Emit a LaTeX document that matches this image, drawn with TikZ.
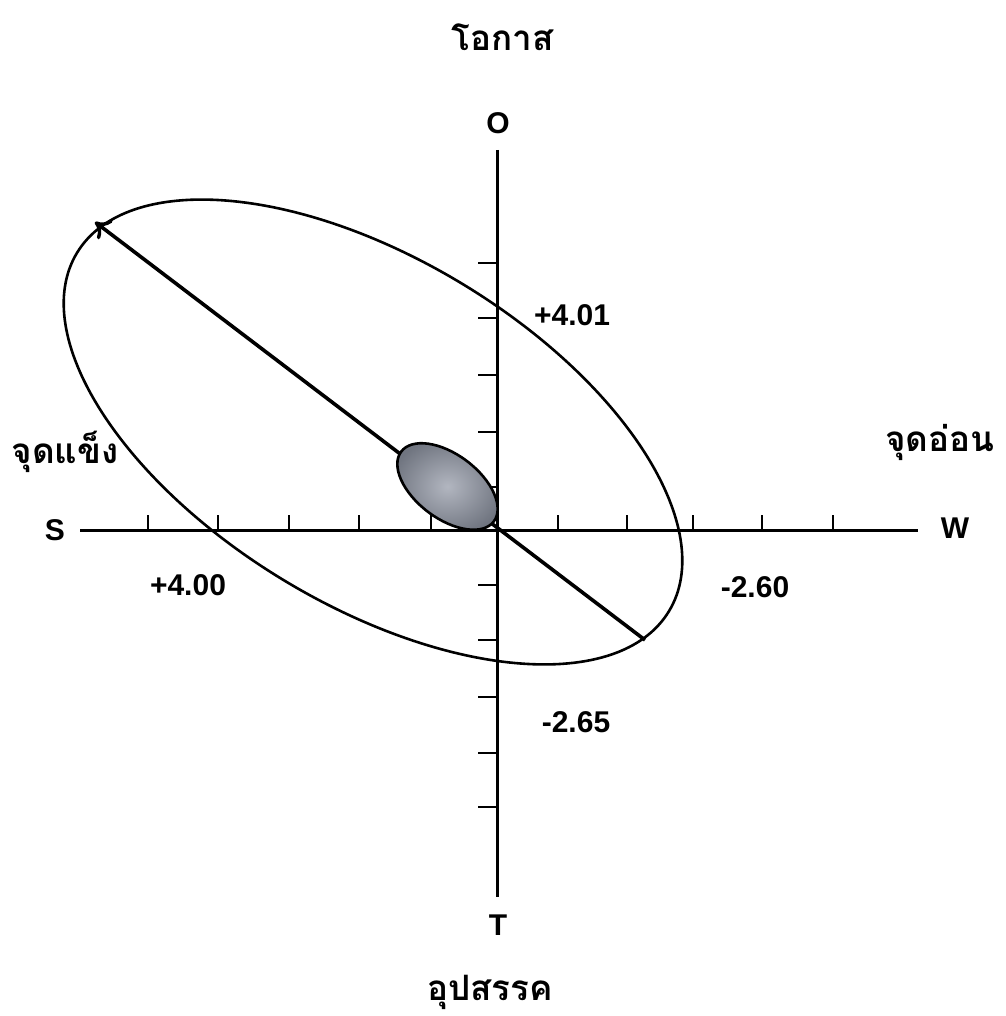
\documentclass[tikz,border=0pt]{standalone}
\usepackage{fontspec}
\setmainfont{Liberation Sans}
\newfontfamily\thaifont[Script=Thai]{Loma}
\usetikzlibrary{arrows.meta}
\definecolor{blobin}{RGB}{178,182,192}
\definecolor{blobout}{RGB}{112,117,128}
\begin{document}
\begin{tikzpicture}[x=1pt,y=1pt,
  lbl/.style={font=\bfseries\fontsize{30}{34}\selectfont, inner sep=0pt},
  thlbl/.style={font=\thaifont\bfseries\fontsize{35}{42}\selectfont, inner sep=0pt},
  axisline/.style={line width=3pt},
  tickmark/.style={line width=2.8pt},
  outline/.style={line width=2.6pt},
  vecline/.style={line width=3.6pt, -{To[length=14pt,width=24pt,line width=3.4pt]}}]
\useasboundingbox (0,0) rectangle (1005,-1016);
% axes
\coordinate (xl) at (80,-530);
\coordinate (xr) at (918,-530);
\coordinate (yt) at (497,-150);
\coordinate (yb) at (497,-897);
\coordinate (orig) at (497,-530);
\draw[axisline] (xl) -- (xr);
\draw[axisline] (yt) -- (yb);
% ticks on horizontal axis (upward)
\foreach \t in {148,218,289,359,431,558,627,693,762,833}
  \draw[tickmark] (\t,-530) -- (\t,-515);
% ticks on vertical axis (leftward)
\foreach \t in {263,318,375,432,487,585,640,697,753,807}
  \draw[tickmark] (497,-\t) -- (478,-\t);
% big ellipse
\draw[outline, rotate around={-31.2:(373,-432)}] (373,-432) ellipse [x radius=346, y radius=173];
% vector
\coordinate (vtail) at (645,-640);
\coordinate (vhead) at (95,-222);
\draw[vecline] (vtail) -- (vhead);
% small shaded ellipse
\shadedraw[outline, inner color=blobin, outer color=blobout, rotate around={-37:(447.5,-486.5)}]
  (447.5,-486.5) ellipse [x radius=58, y radius=32];
% labels
\node[thlbl] (opp) at (503,-37) {โอกาส};
\node[lbl] (lO) at (498,-123) {O};
\node[thlbl] (str) at (65,-452) {จุดแข็ง};
\node[lbl] (lS) at (55,-530) {S};
\node[lbl] (vS) at (188,-585) {+4.00};
\node[thlbl] (wea) at (940,-442) {จุดอ่อน};
\node[lbl] (lW) at (955,-528) {W};
\node[lbl] (vW) at (755,-587) {-2.60};
\node[lbl] (vO) at (572,-315) {+4.01};
\node[lbl] (vT) at (576,-722) {-2.65};
\node[lbl] (lT) at (498,-925) {T};
\node[thlbl] (thr) at (490,-992) {อุปสรรค};
\end{tikzpicture}
\end{document}
